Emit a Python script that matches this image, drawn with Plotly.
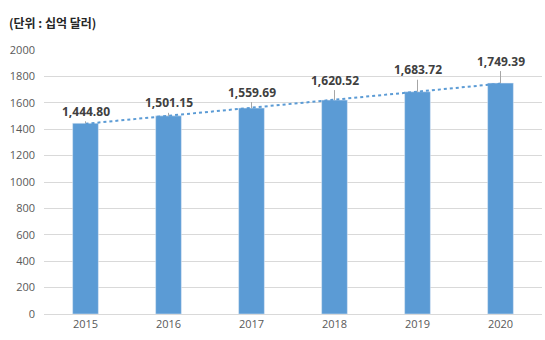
import numpy as np
import plotly.graph_objects as go

years = [2015, 2016, 2017, 2018, 2019, 2020]
year_labels = ["2015", "2016", "2017", "2018", "2019", "2020"]
values = [1444.80, 1501.15, 1559.69, 1620.52, 1683.72, 1749.39]
label_offsets = [-12, -13, -16, -20, -22, -22]
y_ticks = list(range(0, 2001, 200))

# linear trendline fitted to the data
xi = np.array(years, dtype=float)
slope, intercept = np.polyfit(xi, values, 1)
trend = [float(slope * x + intercept) for x in xi]

fig = go.Figure()
fig.add_trace(go.Bar(x=years, y=values, marker_color="#5B9BD5", width=0.31,
                     hoverinfo="skip"))
fig.add_trace(go.Scatter(x=years, y=trend, mode="lines",
                         line=dict(color="#5B9BD5", width=2, dash="dot"),
                         hoverinfo="skip"))

for yr, v, off in zip(years, values, label_offsets):
    fig.add_annotation(x=yr, y=v, text=f"{v:,.2f}", showarrow=True,
                       arrowhead=0, arrowwidth=1, arrowcolor="#A6A6A6",
                       ax=0, ay=off,
                       font=dict(family="Open Sans, Liberation Sans", size=12,
                                 color="#404040", weight="bold"))

fig.add_annotation(xref="paper", yref="paper", x=-0.074, y=1.105,
                   xanchor="left", yanchor="middle", showarrow=False,
                   text="<b>(단위 : 십억 달러)</b>",
                   font=dict(family="Noto Sans CJK KR", size=12, color="#262626"))

fig.update_layout(
    width=545, height=340,
    margin=dict(l=44, r=3, t=50, b=26),
    paper_bgcolor="white", plot_bgcolor="white",
    showlegend=False,
    font=dict(family="Open Sans, Liberation Sans", size=11, color="#595959"),
    xaxis=dict(range=[2014.5, 2020.5], tickvals=years, ticktext=year_labels,
               showgrid=False, showline=False, zeroline=False,
               ticks="", ticklabelstandoff=2,
               tickfont=dict(size=11, color="#595959")),
    yaxis=dict(range=[0, 2000], tickvals=y_ticks, showgrid=True,
               gridcolor="#D9D9D9", gridwidth=1, zeroline=True,
               zerolinecolor="#D9D9D9", zerolinewidth=1, showline=False,
               ticklabelstandoff=8, tickfont=dict(size=11, color="#595959")),
)

fig.write_html("out.html")
